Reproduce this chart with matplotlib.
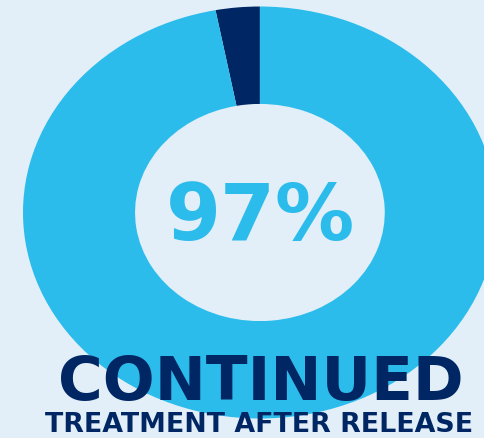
import matplotlib
matplotlib.use("Agg")
import matplotlib.pyplot as plt

# share of people who kept up treatment after release
labels = ["Stopped", "Continued"]
shares = [3, 97]
headline = "97%"
title = "CONTINUED"
subtitle = "TREATMENT AFTER RELEASE"

sky = "#2cbcec"
navy = "#002663"
bg = "#e2eff9"

fig = plt.figure(figsize=(4.84, 4.39), dpi=100)
fig.patch.set_facecolor(bg)

# axes run past the right edge so the ring gets cut off there
ax = fig.add_axes([0.0475, 0.0444, 0.979, 0.9385])
ax.set_facecolor(bg)
ax.pie(shares, colors=[navy, sky], startangle=90, counterclock=True,
       radius=1.0, wedgeprops=dict(width=0.473, linewidth=0))
ax.set_aspect("auto")
ax.set_xlim(-1, 1)
ax.set_ylim(-1, 1)
ax.axis("off")

fig.text(0.539, 0.4533, headline, ha="center", va="baseline",
         fontsize=57, fontweight="bold", color=sky, family="DejaVu Sans")
fig.text(0.538, 0.0888, title, ha="center", va="baseline",
         fontsize=44, fontweight="bold", color=navy, family="DejaVu Sans")
fig.text(0.536, 0.002, subtitle, ha="center", va="bottom",
         fontsize=19.4, fontweight="bold", color=navy, family="DejaVu Sans")

fig.savefig("out.png", dpi=100, facecolor=bg)
